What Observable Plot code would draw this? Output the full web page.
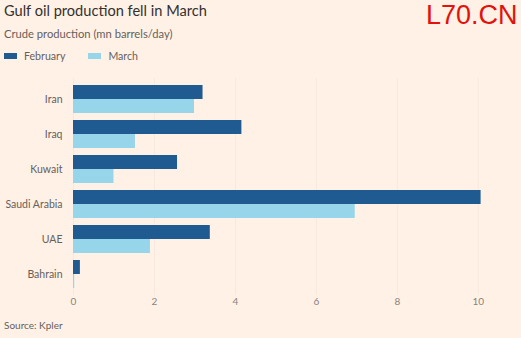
<!DOCTYPE html>
<html>
<head>
<meta charset="utf-8">
<script src="https://cdn.jsdelivr.net/npm/d3@7"></script>
<script src="https://cdn.jsdelivr.net/npm/@observablehq/plot@0.6"></script>
<style>
  html, body { margin: 0; padding: 0; background: #fff1e5; }
  body { width: 521px; height: 338px; position: relative; overflow: hidden; font-family: Lato, "Open Sans", sans-serif; }
  .abs { position: absolute; white-space: nowrap; }
  #title { left: 4px; top: 2px; font-size: 14.6px; color: #33302e; }
  #subtitle { left: 4px; top: 27px; font-size: 11.2px; color: #66605c; }
  #legend { left: 4px; top: 50px; font-size: 10.6px; color: #66605c; display: flex; align-items: center; }
  .sw { display: inline-block; width: 13px; height: 6px; margin-right: 7px; }
  .item { display: flex; align-items: center; margin-right: 23px; }
  #wm { left: 426px; top: 0px; font-family: "Liberation Sans", Arial, sans-serif; font-size: 27px; color: #e3120b; }
  #chart { position: absolute; left: 0; top: 70px; }
  #source { left: 4px; top: 319px; font-size: 10px; color: #66605c; }
</style>
</head>
<body>
<div id="title" class="abs">Gulf oil production fell in March</div>
<div id="subtitle" class="abs">Crude production (mn barrels/day)</div>
<div id="legend" class="abs"></div>
<div id="wm" class="abs">L70.CN</div>
<div id="chart"></div>
<div id="source" class="abs">Source: Kpler</div>
<script>
const countries = ["Iran", "Iraq", "Kuwait", "Saudi Arabia", "UAE", "Bahrain"];
const february = [3.2, 4.16, 2.57, 10.07, 3.38, 0.17];
const march = [2.99, 1.53, 1.0, 6.96, 1.9, 0.03];
const seriesNames = ["February", "March"];
const seriesColors = ["#1f5a91", "#96d5ea"];
const xTicks = [0, 2, 4, 6, 8, 10];

const feb = countries.map((c, i) => ({country: c, value: february[i]}));
const mar = countries.map((c, i) => ({country: c, value: march[i]}));

const legend = document.getElementById("legend");
seriesNames.forEach((n, i) => {
  const it = document.createElement("span");
  it.className = "item";
  it.innerHTML = `<span class="sw" style="background:${seriesColors[i]}"></span>${n}`;
  legend.appendChild(it);
});

const chart = Plot.plot({
  width: 521,
  height: 245,
  marginTop: 8,
  marginBottom: 20,
  marginLeft: 73,
  marginRight: 23,
  style: {background: "transparent", fontFamily: "Lato, 'Open Sans', sans-serif"},
  x: {domain: [0, 10.5], axis: null},
  y: {domain: countries, padding: 0.2, axis: null},
  marks: [
    Plot.ruleX(xTicks, {stroke: "#000", strokeOpacity: 0.035}),
    Plot.barX(feb, {x: "value", y: "country", fill: seriesColors[0], insetBottom: 14, insetTop: 0}),
    Plot.barX(mar, {x: "value", y: "country", fill: seriesColors[1], insetTop: 14, insetBottom: 0}),
    Plot.axisY({tickSize: 0, tickPadding: 11, fontSize: 10.5, color: "#66605c", label: null}),
    Plot.axisX(xTicks, {tickSize: 0, tickPadding: 2, fontSize: 10, color: "#8a837d", label: null})
  ]
});
document.getElementById("chart").appendChild(chart);
</script>
</body>
</html>
